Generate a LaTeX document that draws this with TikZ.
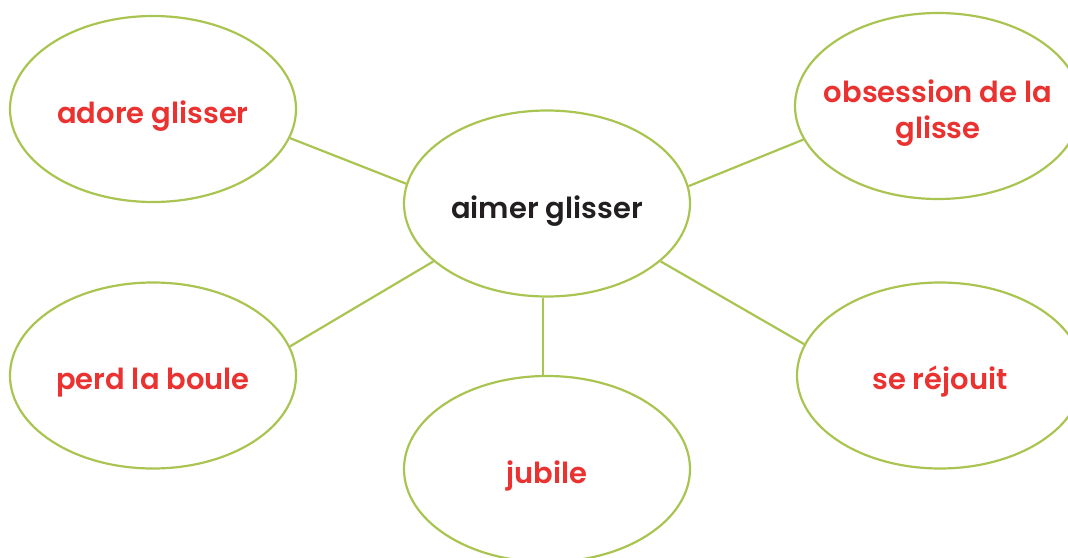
\documentclass[tikz,border=0pt]{standalone}
\usepackage{fontspec}
\setmainfont{Poppins}[UprightFont={* SemiBold}]
\usetikzlibrary{shapes.geometric}
\definecolor{lime}{HTML}{A9C451}
\definecolor{redtext}{HTML}{EA3331}
\definecolor{darktext}{HTML}{231F20}
\newcommand{\lbl}[2][-14.5pt]{\makebox[0pt]{\raisebox{#1}[0pt][0pt]{\begin{tabular}[t]{@{}c@{}}#2\end{tabular}}}}
\tikzset{
  bubble/.style={ellipse, draw=lime, line width=2.2pt, minimum width=286pt, minimum height=186pt, inner sep=0pt, font=\fontsize{29}{36}\selectfont, text=redtext},
  link/.style={draw=lime, line width=2.2pt}
}
\begin{document}
\begin{tikzpicture}[x=1pt,y=-1pt]
\useasboundingbox (0,0) rectangle (1068,557);
\node[bubble, text=darktext] (aimer) at (547,203.5) {\lbl{aimer glisser}};
\node[bubble] (adore) at (153,109) {\lbl{adore glisser}};
\node[bubble] (obs) at (938,106) {\lbl[4pt]{obsession de la\\glisse}};
\node[bubble] (perd) at (153,375.5) {\lbl[-13.5pt]{perd la boule}};
\node[bubble] (rejouit) at (940,375.5) {\lbl[-13.5pt]{se réjouit}};
\node[bubble] (jubile) at (547,469) {\lbl{jubile}};
\draw[link] (adore.-12.4) -- (aimer.172.9);
\draw[link] (aimer.7.1) -- (obs.-166.3);
\draw[link] (aimer.207.6) -- (perd.12.5);
\draw[link] (aimer.-27.8) -- (rejouit.167.5);
\draw[link] ([xshift=-4pt]aimer.south) -- ([xshift=-4pt]jubile.north);
\end{tikzpicture}
\end{document}
